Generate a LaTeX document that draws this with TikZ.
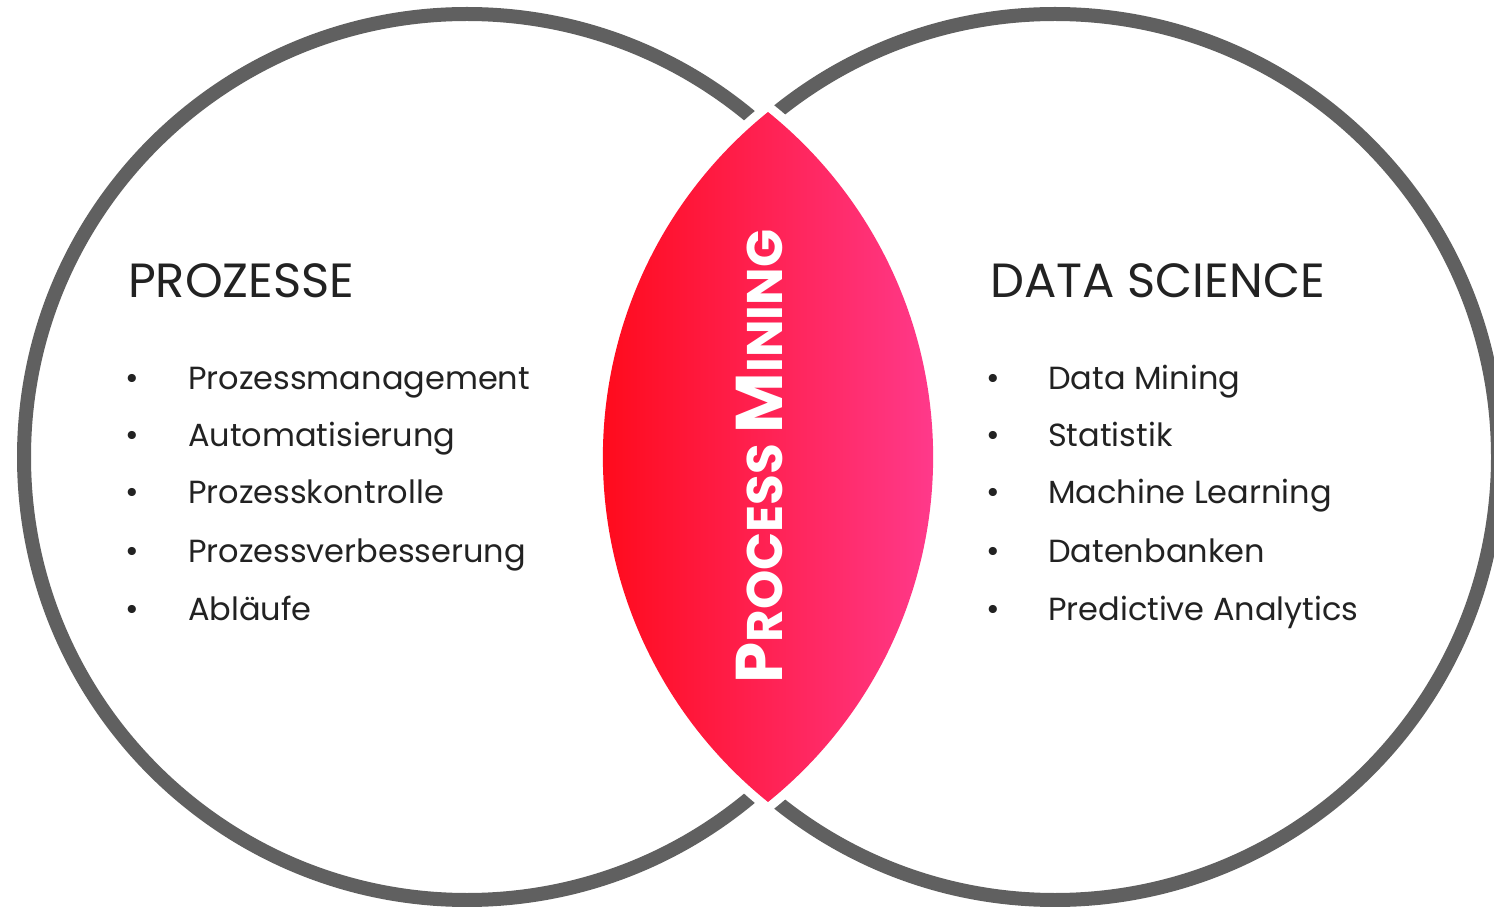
\documentclass[tikz,border=0pt]{standalone}
\usepackage{fontspec}
\setmainfont{Poppins}
\usepackage{tikz}
\definecolor{Ringgray}{RGB}{96, 96, 96}
\definecolor{Textgray}{RGB}{34, 34, 34}
\definecolor{Lensred}{RGB}{255, 8, 22}
\definecolor{Lenspink}{RGB}{255, 60, 145}
\newcommand{\lensshape}{(768,794) arc[start angle=128.85, end angle=231.15, radius=443]
  arc[start angle=-51.15, end angle=51.15, radius=443] -- cycle}
\newcommand{\pmbig}[1]{{\fontsize{66}{66}\selectfont #1}}
\newcommand{\pmsmall}[1]{{\fontsize{50}{50}\selectfont #1}}
\tikzset{
  ring/.style={draw=Ringgray, line width=14},
  title/.style={anchor=base west, inner sep=0, text=Textgray, font=\fontsize{48}{48}\selectfont},
  item/.style={anchor=base west, inner sep=0, text=Textgray, font=\fontsize{32}{32}\selectfont},
  dot/.style={anchor=base, inner sep=0, text=Textgray, font=\fontsize{33}{33}\selectfont}
}

\begin{document}
\begin{tikzpicture}[x=1pt, y=1pt]
\useasboundingbox (0,0) rectangle (1494,906);
\fill[white] (0,0) rectangle (1494,906);
% circles
\draw[ring] (467,449) circle (443);
\draw[ring] (1055,449) circle (443);
% lens
\draw[white, line width=18, line join=round] \lensshape;
\shade[left color=Lensred, right color=Lenspink] \lensshape;
\node[rotate=90, anchor=base, inner sep=0, text=white, font=\bfseries\fontsize{50}{50}\selectfont] (pm) at (782,449.5)
  {\pmbig{P}\pmsmall{ROCESS} \pmbig{M}\pmsmall{INING}};
% left
\node[title] (prozesse) at (128,608) {PROZESSE};
\node[dot] (pb1) at (132,516) {\textbullet};
\node[dot] (pb2) at (132,459) {\textbullet};
\node[dot] (pb3) at (132,402) {\textbullet};
\node[dot] (pb4) at (132,344) {\textbullet};
\node[dot] (pb5) at (132,286) {\textbullet};
\node[item] (p1) at (188,516) {Prozessmanagement};
\node[item] (p2) at (188,459) {Automatisierung};
\node[item] (p3) at (188,402) {Prozesskontrolle};
\node[item] (p4) at (188,344) {Prozessverbesserung};
\node[item] (p5) at (188,286) {Abläufe};
% right
\node[title] (datasci) at (990,608) {DATA SCIENCE};
\node[dot] (db1) at (993,516) {\textbullet};
\node[dot] (db2) at (993,459) {\textbullet};
\node[dot] (db3) at (993,402) {\textbullet};
\node[dot] (db4) at (993,344) {\textbullet};
\node[dot] (db5) at (993,286) {\textbullet};
\node[item] (d1) at (1048,516) {Data Mining};
\node[item] (d2) at (1048,459) {Statistik};
\node[item] (d3) at (1048,402) {Machine Learning};
\node[item] (d4) at (1048,344) {Datenbanken};
\node[item] (d5) at (1048,286) {Predictive Analytics};
\end{tikzpicture}
\end{document}
